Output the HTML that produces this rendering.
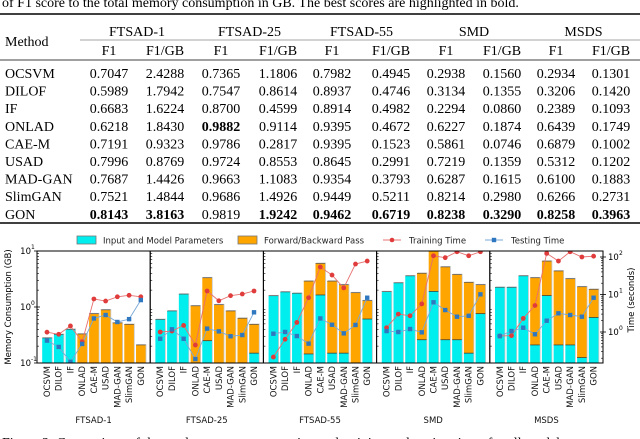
<!DOCTYPE html>
<html><head><meta charset="utf-8"><style>
html,body{margin:0;padding:0;background:#fff;width:640px;height:439px;overflow:hidden}
svg text{font-family:"Liberation Serif",serif}
.s{font-family:"DejaVu Sans","Liberation Sans",sans-serif}
</style></head><body>
<svg id="root" width="640" height="439" viewBox="0 0 640 439" xmlns="http://www.w3.org/2000/svg">
<text x="2" y="7" font-size="14">of F1 score to the total memory consumption in GB. The best scores are highlighted in bold.</text>
<g id="table"></g>
<g id="chart"></g>
<text x="2" y="447" font-size="14">Figure 3: Comparison of the total memory consumption and training and testing times for all models</text>
</svg>
<script>
const NS="http://www.w3.org/2000/svg";
function mk(tag,attrs,parent,txt){const e=document.createElementNS(NS,tag);for(const k in attrs)e.setAttribute(k,attrs[k]);if(txt!==undefined)e.textContent=txt;parent.appendChild(e);return e;}

// ---------- TABLE ----------
const methods=["OCSVM","DILOF","IF","ONLAD","CAE-M","USAD","MAD-GAN","SlimGAN","GON"];
const datasets=["FTSAD-1","FTSAD-25","FTSAD-55","SMD","MSDS"];
const tableRows=[
["0.7047","2.4288","0.7365","1.1806","0.7982","0.4945","0.2938","0.1560","0.2934","0.1301"],
["0.5989","1.7942","0.7547","0.8614","0.8937","0.4746","0.3134","0.1355","0.3206","0.1420"],
["0.6683","1.6224","0.8700","0.4599","0.8914","0.4982","0.2294","0.0860","0.2389","0.1093"],
["0.6218","1.8430","0.9882","0.9114","0.9395","0.4672","0.6227","0.1874","0.6439","0.1749"],
["0.7191","0.9323","0.9786","0.2817","0.9395","0.1523","0.5861","0.0746","0.6879","0.1002"],
["0.7996","0.8769","0.9724","0.8553","0.8645","0.2991","0.7219","0.1359","0.5312","0.1202"],
["0.7687","1.4426","0.9663","1.1083","0.9354","0.3793","0.6287","0.1615","0.6100","0.1883"],
["0.7521","1.4844","0.9686","1.4926","0.9449","0.5211","0.8214","0.2980","0.6266","0.2731"],
["0.8143","3.8163","0.9819","1.9242","0.9462","0.6719","0.8238","0.3290","0.8258","0.3963"]];
const boldCells=["3-2","8-0","8-1","8-3","8-4","8-5","8-6","8-7","8-8","8-9"];
const T=document.getElementById('table');
const colX=[109,165,221,278,332,391,446,502,556,611];
mk('line',{x1:0,y1:14,x2:640,y2:14,stroke:'#000','stroke-width':1.4},T);
mk('line',{x1:80,y1:40,x2:640,y2:40,stroke:'#888','stroke-width':0.8},T);
mk('line',{x1:0,y1:60,x2:640,y2:60,stroke:'#000','stroke-width':0.8},T);
mk('line',{x1:0,y1:223,x2:640,y2:223,stroke:'#000','stroke-width':1.4},T);
let t=mk('text',{x:5,y:46,'font-size':14},T,"Method");

datasets.forEach((d,i)=>{
  const c=(colX[2*i]+colX[2*i+1])/2;
  const e=mk('text',{x:c,y:36,'font-size':14,'text-anchor':'middle'},T,d);
  
  const a=mk('text',{x:colX[2*i],y:55,'font-size':14,'text-anchor':'middle'},T,"F1");
  
  const b=mk('text',{x:colX[2*i+1],y:55,'font-size':14,'text-anchor':'middle'},T,"F1/GB");
  
});
tableRows.forEach((r,ri)=>{
  const y=78+ri*17.6;
  const m=mk('text',{x:5,y:y,'font-size':14},T,methods[ri]);
  
  r.forEach((v,ci)=>{
    const bold=boldCells.includes(ri+"-"+ci);
    const e=mk('text',{x:colX[ci],y:y,'font-size':14,'text-anchor':'middle','font-weight':bold?'bold':'normal'},T,v);
    
  });
});

// ---------- CHART ----------
const paramMem=[
[0.28,0.325,0.40,0.05,0.05,0.05,0.05,0.05,0.05],
[0.60,0.85,1.7,0.05,0.25,0.05,0.05,0.05,0.15],
[1.59,1.86,1.76,0.145,1.64,0.15,0.15,0.05,0.61],
[1.88,2.7,3.6,0.26,1.9,0.26,0.26,0.15,0.76],
[2.25,2.25,3.6,0.21,1.6,0.21,0.21,0.125,0.65]];
const totalMem=[
[0.28,0.325,0.40,0.33,0.76,0.89,0.52,0.49,0.21],
[0.60,0.85,1.7,1.05,3.33,1.1,0.85,0.63,0.49],
[1.59,1.86,1.76,2.9,6.0,2.9,2.5,1.8,1.3],
[1.88,2.7,3.6,4.0,12,5.2,3.8,2.75,2.5],
[2.25,2.25,3.6,3.33,6.6,4.4,3.2,2.3,2.07]];
const trainTime=[
[0.99,0.87,1.45,0.55,7.6,6.7,8.7,9.5,8.7],
[1.0,1.06,1.5,0.45,12.4,6.8,9.3,10.3,12.4],
[0.215,0.64,1.8,8.2,54,33,15,65,78],
[1.3,3.0,2.7,5.6,108,96,138,108,138],
[0.78,0.8,2.3,5.1,125,78,138,100,105]];
const testTime=[
[0.59,0.40,0.16,0.48,2.3,2.84,1.85,2.2,7.1],
[0.66,1.18,0.66,0.19,1.23,1.04,0.77,0.83,3.35],
[0.9,1.0,0.78,0.49,2.3,1.56,0.92,1.54,8.2],
[1.06,1.0,1.2,0.98,6.2,3.85,2.56,2.7,10.1],
[0.78,1.06,1.3,0.87,2.0,3.15,2.84,2.56,8.2]];
const leftTicks=["1","0","-1"];
const leftTickVals=[10,1,0.1];
const rightTicks=["2","1","0"];
const rightTickVals=[100,10,1];

const C=document.getElementById('chart');
const TOP=251,BOT=363,PL=37,PW=113.2;
const yL=v=>Math.min(BOT,Math.max(TOP,TOP+(1-Math.log10(v))*56));
const yR=v=>332-Math.log10(v)*37.5;
const xC=(p,i)=>PL+p*PW+(10+i*11.75)*PW/113.4;
const defs=mk('defs',{},C);
const cp=mk('clipPath',{id:'pc'},defs);
mk('rect',{x:PL,y:TOP,width:PW*5,height:BOT-TOP},cp);

const lg=mk('g',{},C);

let s;
s=mk('rect',{x:77,y:236,width:19,height:8,fill:'#00eeee',stroke:'#777','stroke-width':0.8},lg);

mk('text',{x:103,y:243.5,'font-size':8.5,class:'s',fill:'#222'},lg,"Input and Model Parameters");
s=mk('rect',{x:238,y:236,width:19,height:8,fill:'#ffa500',stroke:'#777','stroke-width':0.8},lg);

mk('text',{x:264,y:243.5,'font-size':8.5,class:'s',fill:'#222'},lg,"Forward/Backward Pass");
mk('line',{x1:383,y1:240,x2:401,y2:240,stroke:'#e87070','stroke-width':1},lg);
mk('circle',{cx:392,cy:240,r:2.3,fill:'#e03c3c'},lg);
mk('text',{x:409,y:243.5,'font-size':8.5,class:'s',fill:'#222'},lg,"Training Time");
mk('line',{x1:485,y1:240,x2:503,y2:240,stroke:'#7aa8d8','stroke-width':1},lg);
mk('rect',{x:491.8,y:237.8,width:4.4,height:4.4,fill:'#2f78c0'},lg);
mk('text',{x:511,y:243.5,'font-size':8.5,class:'s',fill:'#222'},lg,"Testing Time");

const bars=mk('g',{'clip-path':'url(#pc)'},C);
for(let p=0;p<5;p++){
  for(let i=0;i<9;i++){
    const x=xC(p,i)-4.8,w=9.6;
    const yt=yL(totalMem[p][i]),yp=yL(paramMem[p][i]);
    mk('rect',{x:x+0.8,y:yt-0.8,width:w,height:BOT-yt+1,fill:'#c8c8c8'},bars);
    const b1=mk('rect',{x:x,y:yp,width:w,height:BOT-yp,fill:'#00eeee'},bars);
    
    if(totalMem[p][i]>paramMem[p][i]){
      const b2=mk('rect',{x:x,y:yt,width:w,height:yp-yt,fill:'#ffa500'},bars);
      
      mk('line',{x1:x,y1:yp,x2:x+w,y2:yp,stroke:'#333','stroke-width':0.7},bars);
    }
    mk('line',{x1:x,y1:yt,x2:x+w,y2:yt,stroke:'#555','stroke-width':0.7},bars);
  }
}
const lines=mk('g',{'clip-path':'url(#pc)'},C);
for(let p=0;p<5;p++){
  const ptsR=trainTime[p].map((v,i)=>xC(p,i)+','+yR(v)).join(' ');
  const ptsB=testTime[p].map((v,i)=>xC(p,i)+','+yR(v)).join(' ');
  const lr=mk('polyline',{points:ptsR,fill:'none',stroke:'#e87070','stroke-width':0.9},lines);
  
  const lb=mk('polyline',{points:ptsB,fill:'none',stroke:'#7aa8d8','stroke-width':0.9},lines);
  
  trainTime[p].forEach((v,i)=>{const c=mk('circle',{cx:xC(p,i),cy:yR(v),r:2.4,fill:'#e03c3c'},lines);
    });
  testTime[p].forEach((v,i)=>{const c=mk('rect',{x:xC(p,i)-2.2,y:yR(v)-2.2,width:4.4,height:4.4,fill:'#2f78c0'},lines);
    });
}
for(let p=0;p<5;p++){
  const f=mk('rect',{x:PL+p*PW,y:TOP,width:PW,height:BOT-TOP,fill:'none',stroke:'#000','stroke-width':1},C);
  
  methods.forEach((m,i)=>{
    const e=mk('text',{x:0,y:0,'font-size':8.5,class:'s','text-anchor':'end',fill:'#111',transform:`translate(${xC(p,i)+3},366) rotate(-90)`},C,m);
    
  });
  const d=mk('text',{x:PL+p*PW+PW/2,y:423,'font-size':8.5,class:'s','text-anchor':'middle',fill:'#111'},C,datasets[p]);
  
  for(let dec=-1;dec<1;dec++)for(let k=2;k<10;k++){const y=yL(k*Math.pow(10,dec));
    mk('line',{x1:PL+p*PW,y1:y,x2:PL+p*PW+2,y2:y,stroke:'#000','stroke-width':0.6},C);}
}
leftTickVals.forEach((v,i)=>{
  const y=yL(v);
  mk('line',{x1:PL-3,y1:y,x2:PL+3,y2:y,stroke:'#000','stroke-width':0.8},C);
  const e=mk('text',{x:31,y:y+3,'font-size':8.5,class:'s','text-anchor':'end'},C,"10");
  
  mk('text',{x:31,y:y-2,'font-size':6,class:'s'},C,leftTicks[i]);
});
const RX=PL+5*PW;
rightTickVals.forEach((v,i)=>{
  const y=yR(v);
  mk('line',{x1:RX-3,y1:y,x2:RX+3,y2:y,stroke:'#000','stroke-width':0.8},C);
  const e=mk('text',{x:RX+5,y:y+3,'font-size':8.5,class:'s'},C,"10");
  
  mk('text',{x:RX+16,y:y-2,'font-size':6,class:'s'},C,rightTicks[i]);
});
for(let dec=-1;dec<3;dec++)for(let k=2;k<10;k++){const v=k*Math.pow(10,dec);const y=yR(v);
  if(y>TOP&&y<BOT)mk('line',{x1:RX-2,y1:y,x2:RX,y2:y,stroke:'#000','stroke-width':0.6},C);}
let yt=mk('text',{x:0,y:0,'font-size':8.5,class:'s','text-anchor':'middle',transform:'translate(11,307) rotate(-90)'},C,"Memory Consumption (GB)");

yt=mk('text',{x:0,y:0,'font-size':8.5,class:'s','text-anchor':'middle',transform:'translate(634,300) rotate(-90)'},C,"Time (seconds)");

</script>
</body></html>
